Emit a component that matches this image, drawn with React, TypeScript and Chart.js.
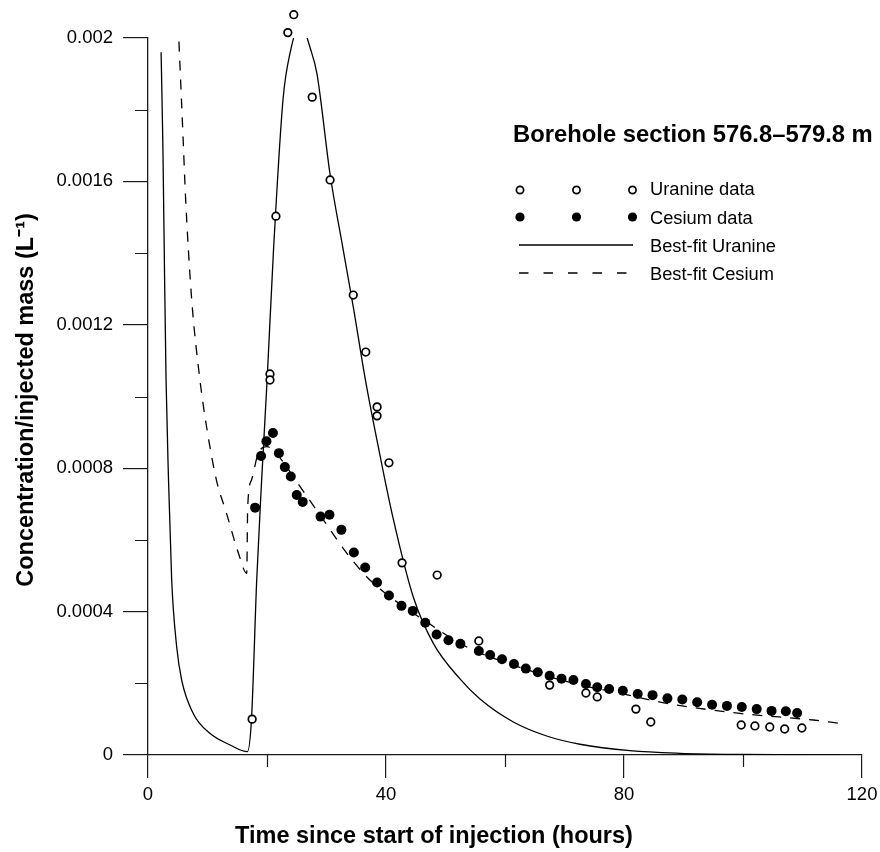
import React, { useEffect, useRef } from 'react';
import { Chart, registerables } from 'chart.js';

Chart.register(...registerables);

const FONT = '"Liberation Sans", Arial, Helvetica, sans-serif';
const AXIS = '#1a1a1a';

// Measured data (time in hours, concentration/injected mass in L^-1)
const uranineTime = [17.5, 20.5, 20.5, 21.5, 23.5, 24.5, 27.6, 30.6, 34.5, 36.6, 38.5, 38.5, 40.5, 42.7, 48.6, 55.6, 67.5, 73.6, 75.5, 82.0, 84.5, 99.7, 102.0, 104.5, 107.0, 109.9];
const uranineConc = [0.0001, 0.001063, 0.001046, 0.001503, 0.002015, 0.002065, 0.001835, 0.001604, 0.001283, 0.001124, 0.000971, 0.000946, 0.000815, 0.000536, 0.000502, 0.000318, 0.000195, 0.000173, 0.000162, 0.000128, 0.000092, 0.0000837, 0.000081, 0.0000781, 0.0000725, 0.0000753];

const cesiumTime = [18.0, 19.0, 19.9, 21.0, 22.0, 23.0, 24.0, 25.0, 26.0, 29.0, 30.5, 32.5, 34.6, 36.5, 38.5, 40.5, 42.6, 44.5, 46.6, 48.5, 50.5, 52.5, 55.6, 57.5, 59.5, 61.5, 63.5, 65.5, 67.5, 69.5, 71.5, 73.6, 75.5, 77.5, 79.8, 82.3, 84.8, 87.3, 89.8, 92.3, 94.8, 97.3, 99.8, 102.3, 104.8, 107.2, 109.1];
const cesiumConc = [0.00069, 0.000834, 0.000875, 0.000898, 0.000842, 0.000803, 0.000777, 0.000725, 0.000706, 0.000665, 0.00067, 0.000628, 0.000565, 0.000523, 0.000481, 0.000445, 0.000416, 0.000402, 0.000369, 0.000336, 0.00032, 0.00031, 0.00029, 0.000279, 0.000267, 0.000254, 0.000241, 0.000231, 0.000221, 0.000213, 0.000209, 0.000198, 0.000189, 0.000184, 0.000179, 0.00017, 0.000167, 0.000158, 0.000155, 0.000147, 0.00014, 0.000137, 0.000134, 0.000128, 0.000123, 0.000122, 0.000117];

// Best-fit curves
const uranineFitTime = [2.2, 2.5, 2.75, 3.03, 3.45, 3.98, 4.82, 5.66, 7.6, 10.4, 13.8, 16.7, 17.4, 18.27, 19.1, 20.0, 21.1, 22.7, 23.9, 25.6, 27.3, 28.4, 30.6, 32.8, 34.5, 36.5, 38.7, 41.2, 44.6, 48.0, 52.4, 55.8, 61.4, 67.0, 72.6, 81.0, 89.4, 100.0, 116.3];
const uranineFitConc = [0.00196, 0.0017, 0.00138, 0.00105, 0.000767, 0.000488, 0.000302, 0.000209, 0.000116, 0.0000605, 0.0000279, 0.0000093, 0.000102, 0.000488, 0.000767, 0.00104, 0.00141, 0.00183, 0.00196, 0.00204, 0.00197, 0.0019, 0.00162, 0.00141, 0.00125, 0.00105, 0.00086, 0.00066, 0.00044, 0.00031, 0.000213, 0.000156, 0.000092, 0.000053, 0.00003, 0.000012, 0.0000047, 0.0000015, 0.0000002];

const cesiumFitTime = [5.2, 5.9, 6.3, 7.3, 8.7, 9.9, 11.5, 13.2, 15.2, 16.6, 16.75, 17.4, 18.5, 20.0, 21.6, 25.5, 29.5, 33.4, 37.3, 40.7, 46.3, 53.5, 61.5, 71.5, 80.0, 87.2, 99.5, 111.8, 116.3];
const cesiumFitConc = [0.00199, 0.00172, 0.00156, 0.00128, 0.00105, 0.00091, 0.000767, 0.000674, 0.000563, 0.000507, 0.00069, 0.000767, 0.00084, 0.00086, 0.00084, 0.00075, 0.000655, 0.000563, 0.000488, 0.000441, 0.000377, 0.000302, 0.00025, 0.0002, 0.00017, 0.000144, 0.000116, 0.0000976, 0.0000884];

const xTickValues = [0, 20, 40, 60, 80, 100, 120];
const xTickLabels = ['0', '', '40', '', '80', '', '120'];
const yTickValues = [0, 0.0002, 0.0004, 0.0006, 0.0008, 0.001, 0.0012, 0.0014, 0.0016, 0.0018, 0.002];
const yTickLabels = ['0', '', '0.0004', '', '0.0008', '', '0.0012', '', '0.0016', '', '0.002'];

const xTitle = 'Time since start of injection (hours)';
const yTitle = 'Concentration/injected mass (L\u207B\u00B9)';
const legendTitle = 'Borehole section 576.8\u2013579.8 m';
const legendLabels = ['Uranine data', 'Cesium data', 'Best-fit Uranine', 'Best-fit Cesium'];

const zip = (xs: number[], ys: number[]) => xs.map((x, i) => ({ x, y: ys[i] }));

const DASH = [10, 9];
const POINT_DATASETS = [0, 1];

// lets the measured points that lie above the top of the axis still be drawn
const overflowPlugin = {
  id: 'overflow',
  saved: 0,
  beforeDatasetDraw(chart: any, args: any) {
    if (POINT_DATASETS.includes(args.index)) {
      (this as any).saved = chart.chartArea.top;
      chart.chartArea.top = 0;
    }
  },
  afterDatasetDraw(chart: any, args: any) {
    if (POINT_DATASETS.includes(args.index)) {
      chart.chartArea.top = (this as any).saved;
    }
  },
};

const decorPlugin = {
  id: 'decor',
  afterDraw(chart: any) {
    const ctx: CanvasRenderingContext2D = chart.ctx;
    const xs = chart.scales.x;
    const ys = chart.scales.y;
    ctx.save();
    // minor ticks
    ctx.strokeStyle = AXIS;
    ctx.lineWidth = 1.2;
    ctx.beginPath();
    xTickValues.forEach((v, i) => {
      if (xTickLabels[i]) return;
      const px = Math.round(xs.getPixelForValue(v)) + 0.5;
      ctx.moveTo(px, xs.top);
      ctx.lineTo(px, xs.top + 12);
    });
    yTickValues.forEach((v, i) => {
      if (yTickLabels[i]) return;
      const py = Math.round(ys.getPixelForValue(v)) + 0.5;
      ctx.moveTo(ys.right - 13, py);
      ctx.lineTo(ys.right, py);
    });
    ctx.stroke();

    // axis titles
    ctx.fillStyle = '#000';
    ctx.font = `bold 23.5px ${FONT}`;
    ctx.textAlign = 'center';
    ctx.textBaseline = 'alphabetic';
    ctx.fillText(xTitle, 434, 843);
    ctx.save();
    ctx.translate(33, 400);
    ctx.rotate(-Math.PI / 2);
    ctx.fillText(yTitle, 0, 0);
    ctx.restore();

    // legend
    ctx.textAlign = 'left';
    ctx.font = `bold 23.8px ${FONT}`;
    ctx.fillText(legendTitle, 513, 142);
    ctx.font = `18.3px ${FONT}`;
    const textX = 650;
    const baselines = [195, 223.5, 251.5, 280];
    legendLabels.forEach((t, i) => ctx.fillText(t, textX, baselines[i]));
    const markerXs = [520, 576.5, 632.5];
    ctx.lineWidth = 1.7;
    ctx.strokeStyle = '#000';
    markerXs.forEach((mx) => {
      ctx.beginPath();
      ctx.arc(mx, 190, 3.6, 0, Math.PI * 2);
      ctx.fillStyle = '#fff';
      ctx.fill();
      ctx.stroke();
    });
    ctx.fillStyle = '#000';
    markerXs.forEach((mx) => {
      ctx.beginPath();
      ctx.arc(mx, 217, 4.6, 0, Math.PI * 2);
      ctx.fill();
    });
    ctx.lineWidth = 1.3;
    ctx.beginPath();
    ctx.moveTo(519, 245);
    ctx.lineTo(633, 245);
    ctx.stroke();
    ctx.setLineDash([9.5, 15]);
    ctx.beginPath();
    ctx.moveTo(519, 273);
    ctx.lineTo(628, 273);
    ctx.stroke();
    ctx.restore();
  },
};

export default function App() {
  const ref = useRef<HTMLCanvasElement>(null);
  useEffect(() => {
    document.body.style.margin = '0';
    Chart.defaults.font.family = FONT;
    Chart.defaults.color = '#000';
    const chart = new Chart(ref.current!, {
      type: 'scatter',
      data: {
        datasets: [
          {
            label: 'Cesium data',
            data: zip(cesiumTime, cesiumConc),
            pointRadius: 5,
            pointBackgroundColor: '#000',
            pointBorderColor: '#000',
            pointBorderWidth: 0,
            showLine: false,
            clip: false,
          },
          {
            label: 'Uranine data',
            data: zip(uranineTime, uranineConc),
            pointRadius: 3.8,
            pointBackgroundColor: '#fff',
            pointBorderColor: '#000',
            pointBorderWidth: 1.7,
            showLine: false,
            clip: false,
          },
          {
            label: 'Best-fit Uranine',
            data: zip(uranineFitTime, uranineFitConc),
            showLine: true,
            borderColor: '#000',
            borderWidth: 1.3,
            pointRadius: 0,
            cubicInterpolationMode: 'monotone',
          },
          {
            label: 'Best-fit Cesium',
            data: zip(cesiumFitTime, cesiumFitConc),
            showLine: true,
            borderColor: '#000',
            borderWidth: 1.3,
            borderDash: DASH,
            pointRadius: 0,
            cubicInterpolationMode: 'monotone',
          },
        ],
      } as any,
      options: {
        animation: false,
        responsive: false,
        devicePixelRatio: 1,
        layout: { padding: { top: 38, right: 18, left: 0, bottom: 0 } },
        plugins: { legend: { display: false }, tooltip: { enabled: false } },
        scales: {
          x: {
            type: 'linear',
            min: 0,
            max: 120,
            afterBuildTicks: (s: any) => { s.ticks = xTickValues.map((v) => ({ value: v })); },
            afterFit: (s: any) => { s.height = 97; s.paddingLeft = 0; s.paddingRight = 0; },
            ticks: {
              autoSkip: false,
              maxRotation: 0,
              padding: 6,
              font: { size: 18.5, family: FONT },
              color: '#000',
              callback: (_v: any, i: number) => xTickLabels[i],
            },
            grid: {
              drawOnChartArea: false,
              tickLength: 23,
              lineWidth: 1.2,
              color: (c: any) => (xTickLabels[c.index] ? AXIS : 'rgba(0,0,0,0)'),
            },
            border: { display: true, color: AXIS, width: 1.3 },
          },
          y: {
            type: 'linear',
            min: 0,
            max: 0.002,
            afterBuildTicks: (s: any) => { s.ticks = yTickValues.map((v) => ({ value: v })); },
            afterFit: (s: any) => { s.width = 148; s.paddingTop = 0; s.paddingBottom = 0; },
            ticks: {
              autoSkip: false,
              padding: 10,
              font: { size: 18.5, family: FONT },
              color: '#000',
              callback: (_v: any, i: number) => yTickLabels[i],
            },
            grid: {
              drawOnChartArea: false,
              tickLength: 25,
              lineWidth: 1.2,
              color: (c: any) => (yTickLabels[c.index] ? AXIS : 'rgba(0,0,0,0)'),
            },
            border: { display: true, color: AXIS, width: 1.3 },
          },
        },
      } as any,
      plugins: [overflowPlugin, decorPlugin],
    });
    return () => chart.destroy();
  }, []);
  return (
    <div style={{ width: 880, height: 852 }}>
      <canvas ref={ref} width={880} height={852} style={{ display: 'block' }} />
    </div>
  );
}
